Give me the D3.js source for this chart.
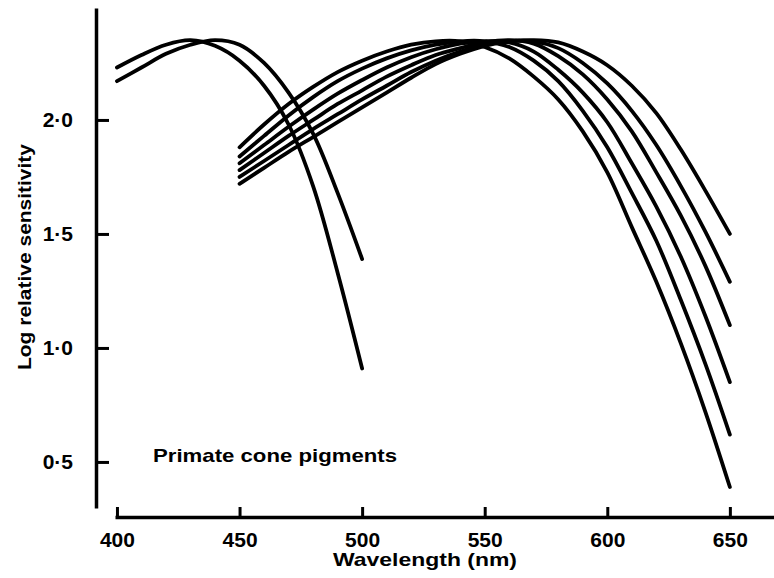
<!DOCTYPE html>
<html>
<head>
<meta charset="utf-8">
<script src="https://cdn.jsdelivr.net/npm/d3@7"></script>
<style>
    body { margin: 0; background: #fff; }
    text { font-family: "Liberation Sans", Arial, sans-serif; font-weight: bold; fill: #000; }
</style>
</head>
<body>
<script>
// wavelengths (nm) sampled for each family of curves
var blueNm = [400, 410, 420, 430, 440, 450, 460, 470, 480, 490, 500];
var greenNm = [450, 460, 470, 480, 490, 500, 510, 520, 530, 540, 550, 560, 570, 580, 590, 600, 610, 620, 630, 640, 650];

// short-wave pigments, log relative sensitivity
var blueA = [2.23, 2.285, 2.33, 2.35, 2.325, 2.26, 2.15, 1.98, 1.71, 1.33, 0.91];
var blueB = [2.17, 2.23, 2.29, 2.33, 2.35, 2.33, 2.25, 2.12, 1.94, 1.68, 1.39];

// middle / long-wave pigments
var green1 = [1.88, 1.98, 2.07, 2.145, 2.21, 2.26, 2.30, 2.33, 2.345, 2.345, 2.32, 2.27, 2.19, 2.09, 1.95, 1.77, 1.53, 1.29, 1.02, 0.72, 0.39];
var green2 = [1.84, 1.93, 2.02, 2.10, 2.17, 2.225, 2.27, 2.305, 2.33, 2.345, 2.345, 2.32, 2.26, 2.17, 2.04, 1.88, 1.68, 1.47, 1.21, 0.93, 0.62];
var green3 = [1.81, 1.89, 1.97, 2.045, 2.115, 2.175, 2.23, 2.275, 2.31, 2.335, 2.345, 2.34, 2.30, 2.22, 2.12, 1.99, 1.81, 1.62, 1.40, 1.14, 0.85];
var green4 = [1.78, 1.855, 1.93, 2.00, 2.07, 2.13, 2.19, 2.24, 2.285, 2.315, 2.34, 2.35, 2.335, 2.28, 2.20, 2.09, 1.95, 1.77, 1.58, 1.36, 1.10];
var green5 = [1.75, 1.82, 1.89, 1.96, 2.025, 2.09, 2.15, 2.21, 2.26, 2.30, 2.33, 2.345, 2.345, 2.315, 2.25, 2.16, 2.04, 1.89, 1.71, 1.51, 1.29];
var green6 = [1.72, 1.79, 1.86, 1.925, 1.99, 2.055, 2.12, 2.185, 2.245, 2.29, 2.325, 2.345, 2.35, 2.34, 2.30, 2.24, 2.15, 2.03, 1.87, 1.69, 1.50];

var xTicks = [400, 450, 500, 550, 600, 650];
var yTicks = [0.5, 1.0, 1.5, 2.0];
var yTickLabels = ["0·5", "1·0", "1·5", "2·0"];

var svg = d3.select("body").append("svg").attr("width", 774).attr("height", 578);

var x = d3.scaleLinear().domain([399.2, 668]).range([115, 774]);
var y = d3.scaleLinear().domain([0.298, 2.491]).range([508, 8]);

var line = d3.line()
    .curve(d3.curveCatmullRom.alpha(0.5))
    .x(function(d) { return x(d[0]); })
    .y(function(d) { return y(d[1]); });

var curves = [
    d3.zip(blueNm, blueA), d3.zip(blueNm, blueB),
    d3.zip(greenNm, green1), d3.zip(greenNm, green2), d3.zip(greenNm, green3),
    d3.zip(greenNm, green4), d3.zip(greenNm, green5), d3.zip(greenNm, green6)
];

svg.append("g")
    .selectAll("path")
    .data(curves)
    .enter().append("path")
    .attr("d", line)
    .attr("fill", "none")
    .attr("stroke", "#000")
    .attr("stroke-width", 3.8)
    .attr("stroke-linecap", "round")
    .attr("stroke-linejoin", "round");

// y axis, ticks pointing inwards
var yAxis = d3.axisLeft(y)
    .tickValues(yTicks)
    .tickFormat(function(d, i) { return yTickLabels[i]; })
    .tickSizeInner(-13)
    .tickSizeOuter(0)
    .tickPadding(23);

var gy = svg.append("g")
    .attr("transform", "translate(96,0)")
    .call(yAxis);
gy.attr("font-family", null).attr("font-size", 21);
gy.select(".domain").attr("stroke-width", 3.5);
gy.selectAll(".tick line").attr("stroke-width", 3);

// x axis
var xAxis = d3.axisBottom(x)
    .tickValues(xTicks)
    .tickSizeInner(-10)
    .tickSizeOuter(0)
    .tickPadding(15);

var gx = svg.append("g")
    .attr("transform", "translate(0,517)")
    .call(xAxis);
gx.attr("font-family", null).attr("font-size", 21);
gx.select(".domain").attr("stroke-width", 3.5);
gx.selectAll(".tick line").attr("stroke-width", 3);

svg.append("text")
    .attr("x", 425)
    .attr("y", 566)
    .attr("text-anchor", "middle")
    .attr("font-size", 19)
    .attr("textLength", 184)
    .attr("lengthAdjust", "spacingAndGlyphs")
    .text("Wavelength (nm)");

svg.append("text")
    .attr("transform", "translate(31,257) rotate(-90)")
    .attr("text-anchor", "middle")
    .attr("font-size", 19)
    .attr("textLength", 226)
    .attr("lengthAdjust", "spacingAndGlyphs")
    .text("Log relative sensitivity");

svg.append("text")
    .attr("x", 153)
    .attr("y", 462)
    .attr("font-size", 19)
    .attr("textLength", 244)
    .attr("lengthAdjust", "spacingAndGlyphs")
    .text("Primate cone pigments");
</script>
</body>
</html>
